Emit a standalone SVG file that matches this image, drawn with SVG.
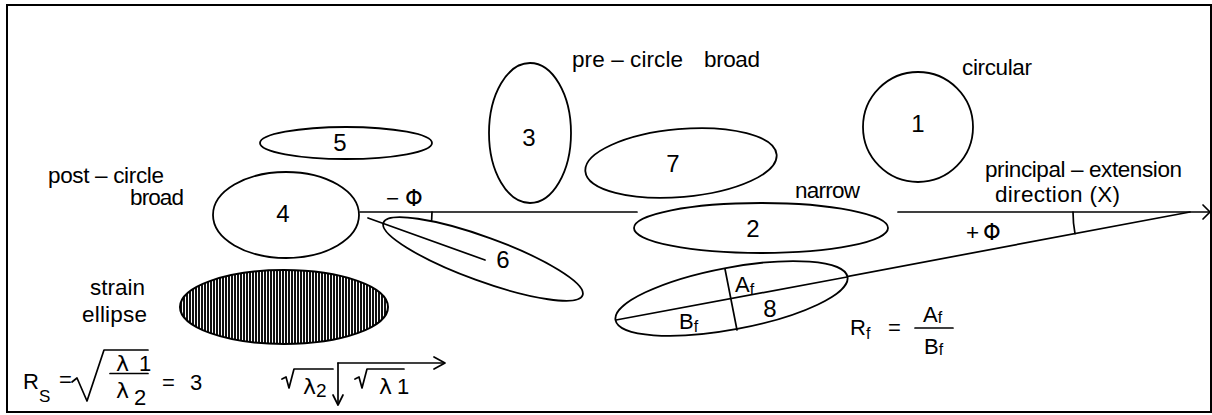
<svg xmlns="http://www.w3.org/2000/svg" width="1212" height="415" viewBox="0 0 1212 415">
<defs>
<style>
.t{font-family:"Liberation Sans",Arial,sans-serif;font-size:22.5px;fill:#000}
.n{font-family:"Liberation Sans",Arial,sans-serif;font-size:24px;fill:#000;text-anchor:middle}
.m{font-family:"Liberation Sans",Arial,sans-serif;font-size:22px;fill:#000}
.g{font-family:"DejaVu Sans",sans-serif}
.e{fill:#fff;stroke:#000;stroke-width:1.8}
.l{fill:none;stroke:#000;stroke-width:1.7;stroke-linecap:round;stroke-linejoin:round}
</style>
<pattern id="hatch" width="3" height="10" patternUnits="userSpaceOnUse">
<rect width="3" height="10" fill="#fff"/>
<rect x="0" width="2" height="10" fill="#111"/>
</pattern>
</defs>
<rect x="7" y="5" width="1204" height="407" fill="#fff" stroke="#000" stroke-width="2"/>

<g id="connectors">
<line class="l" x1="360" y1="212" x2="637" y2="212"/>
<line class="l" x1="898" y1="212" x2="1209" y2="212"/>
<path class="l" d="M1203,205 L1210,212 L1203,219"/>
<path class="l" d="M432,212 A81,81 0 0 1 427,240"/>
<path class="l" d="M1073,212 A117,117 0 0 0 1075,233.6"/>
<line class="l" x1="616" y1="320" x2="1190" y2="212"/>
</g>

<g id="node-5">
<ellipse class="e" cx="346" cy="143" rx="86" ry="16"/>
<text class="n" x="340" y="151">5</text>
</g>
<g id="node-4">
<ellipse class="e" cx="286" cy="215" rx="73" ry="43"/>
<text class="n" x="283" y="222">4</text>
</g>
<g id="node-3">
<ellipse class="e" cx="530" cy="133" rx="41" ry="70"/>
<text class="n" x="529" y="146">3</text>
</g>
<g id="node-7">
<ellipse class="e" cx="681" cy="163" rx="96" ry="34" transform="rotate(-5 681 163)"/>
<text class="n" x="673" y="172">7</text>
</g>
<g id="node-1">
<circle class="e" cx="918" cy="127" r="55"/>
<text class="n" x="918" y="132">1</text>
</g>
<g id="node-2">
<ellipse class="e" cx="761" cy="228" rx="127" ry="25"/>
<text class="n" x="753" y="237">2</text>
</g>
<g id="node-6">
<ellipse class="e" cx="483" cy="259" rx="106" ry="22" transform="rotate(20 483 259)"/>
<line class="l" x1="368" y1="218" x2="485" y2="260"/>
<text class="n" x="503" y="268">6</text>
</g>
<g id="node-8">
<ellipse class="e" cx="731.5" cy="298.5" rx="118" ry="31" transform="rotate(-10.6 731.5 298.5)"/>
<line class="l" x1="616" y1="320" x2="847" y2="277"/>
<line class="l" x1="725" y1="269" x2="737" y2="330"/>
<text class="n" x="770" y="317">8</text>
<text class="m" x="735" y="292" font-size="20">A<tspan font-size="16" dy="3">f</tspan></text>
<text class="m" x="679" y="329" font-size="20">B<tspan font-size="16" dy="3">f</tspan></text>
</g>
<g id="strain-ellipse">
<ellipse cx="284" cy="307" rx="104" ry="37" fill="url(#hatch)" stroke="#000" stroke-width="2"/>
</g>

<g id="labels">
<text class="t" x="572" y="67" textLength="111" lengthAdjust="spacing">pre – circle</text>
<text class="t" x="704" y="67" textLength="56" lengthAdjust="spacing">broad</text>
<text class="t" x="962" y="75" textLength="70" lengthAdjust="spacing">circular</text>
<text class="t" x="48" y="183" textLength="116" lengthAdjust="spacing">post – circle</text>
<text class="t" x="130" y="205" textLength="54" lengthAdjust="spacing">broad</text>
<text class="t" x="985" y="177" textLength="197" lengthAdjust="spacing">principal – extension</text>
<text class="t" x="995" y="202" textLength="125" lengthAdjust="spacing">direction (X)</text>
<text class="t" x="795" y="198" textLength="65" lengthAdjust="spacing">narrow</text>
<text class="t" x="90" y="295" textLength="55" lengthAdjust="spacing">strain</text>
<text class="t" x="82" y="322" textLength="65" lengthAdjust="spacing">ellipse</text>
<text class="t" x="386" y="206" font-size="24">−<tspan class="g" x="405">Φ</tspan></text>
<text class="t" x="966" y="240" font-size="24">+<tspan class="g" x="983">Φ</tspan></text>
</g>

<g id="formula-rf">
<text class="m" x="850" y="335" font-size="20">R<tspan font-size="16" dy="4">f</tspan></text>
<text class="m" x="888" y="335" font-size="20">=</text>
<text class="m" x="923" y="322" font-size="20">A<tspan font-size="16" dy="1">f</tspan></text>
<line class="l" x1="915" y1="328" x2="953" y2="328"/>
<text class="m" x="924" y="354" font-size="20">B<tspan font-size="16" dy="1">f</tspan></text>
</g>

<g id="formula-rs">
<text class="m" x="23" y="389" font-size="22">R<tspan font-size="17" dy="13">S</tspan></text>
<text class="m" x="59" y="387" font-size="16">=</text>
<path class="l" d="M72,382 L77,378 L87,401 L104,350 L148,350"/>
<text class="m" x="116" y="371"><tspan class="g">λ</tspan><tspan x="139">1</tspan></text>
<line class="l" x1="110" y1="373.5" x2="148" y2="373.5"/>
<text class="m" x="116" y="398"><tspan class="g">λ</tspan><tspan x="134" dy="7">2</tspan></text>
<text class="m" x="162" y="390" font-size="16">=</text>
<text class="m" x="190" y="390" font-size="22">3</text>
</g>

<g id="axes">
<path class="l" d="M282,379 L286,377 L289,388 L294,369 L333,369"/>
<text class="m" x="303" y="394"><tspan class="g">λ</tspan><tspan font-size="19" dy="3">2</tspan></text>
<path class="l" d="M355,379 L359,377 L362,388 L367,369 L404,369"/>
<text class="m" x="379" y="394"><tspan class="g">λ</tspan><tspan x="397">1</tspan></text>
<line class="l" x1="338" y1="363" x2="338" y2="404"/>
<path class="l" d="M333,395 L338,405 L343,395"/>
<line class="l" x1="338" y1="363" x2="444" y2="363"/>
<path class="l" d="M434,357 L445,363 L434,369"/>
</g>
</svg>
